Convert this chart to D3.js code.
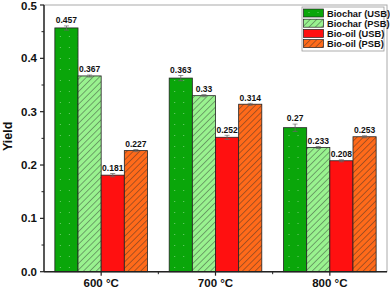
<!DOCTYPE html>
<html>
<head>
<meta charset="utf-8">
<script src="https://cdn.jsdelivr.net/npm/d3@7"></script>
<style>
  body { margin: 0; background: #fff; }
  text { font-family: "Liberation Sans", Arial, sans-serif; font-weight: bold; }
</style>
</head>
<body>
<script>
// ---------------- DATA ----------------
var categories = ['600 °C', '700 °C', '800 °C']
var seriesNames = ['Biochar (USB)', 'Biochar (PSB)', 'Bio-oil (USB)', 'Bio-oil (PSB)']
var biocharUSB = [0.457, 0.363, 0.27]
var biocharPSB = [0.367, 0.33, 0.233]
var biooilUSB = [0.181, 0.252, 0.208]
var biooilPSB = [0.227, 0.314, 0.253]
var errUSBchar = [0.004, 0.005, 0.007]
var errPSBchar = [0.002, 0.002, 0.002]
var errUSBoil = [0.003, 0.004, 0.002]
var errPSBoil = [0.002, 0.002, 0.002]
var yTicks = [0, 0.1, 0.2, 0.3, 0.4, 0.5]
var yMinorTicks = [0.05, 0.15, 0.25, 0.35, 0.45]

// ---------------- SVG ----------------
var width = 390, height = 289
var margin = {left: 44, right: 3, top: 5, bottom: 17.3}

var svg = d3.select('body').append('svg')
  .attr('width', width).attr('height', height)

var x0 = d3.scaleBand().domain(categories)
  .range([margin.left, width - margin.right]).paddingInner(0.19).paddingOuter(0.095)
var x1 = d3.scaleBand().domain(seriesNames).range([0, x0.bandwidth()])
var y = d3.scaleLinear().domain([0, 0.5]).range([height - margin.bottom, margin.top])

// ---------------- PATTERNS ----------------
var defs = svg.append('defs')
function hatch(id, bg) {
  var p = defs.append('pattern').attr('id', id).attr('patternUnits', 'userSpaceOnUse')
    .attr('width', 4.5).attr('height', 4.5).attr('patternTransform', 'rotate(45)')
  p.append('rect').attr('width', 4.5).attr('height', 4.5).attr('fill', bg)
  p.append('line').attr('x1', 0).attr('y1', 0).attr('x2', 0).attr('y2', 4.5)
    .attr('stroke', '#2a2a2a').attr('stroke-width', 0.8)
}
hatch('hatchGreen', '#99f28f')
hatch('hatchOrange', '#ff6a1a')
var dots = defs.append('pattern').attr('id', 'dotGreen').attr('patternUnits', 'userSpaceOnUse')
  .attr('width', 9).attr('height', 11)
dots.append('rect').attr('width', 9).attr('height', 11).attr('fill', '#0aa60a')
dots.append('rect').attr('x', 5).attr('y', 3).attr('width', 1).attr('height', 1).attr('fill', '#6fcf6f')

var fills = ['url(#dotGreen)', 'url(#hatchGreen)', '#ff1010', 'url(#hatchOrange)']

var table = categories.map(function(c, i) {
  return {cat: c, vals: [
    {s: seriesNames[0], v: biocharUSB[i], e: errUSBchar[i], f: fills[0]},
    {s: seriesNames[1], v: biocharPSB[i], e: errPSBchar[i], f: fills[1]},
    {s: seriesNames[2], v: biooilUSB[i], e: errUSBoil[i], f: fills[2]},
    {s: seriesNames[3], v: biooilPSB[i], e: errPSBoil[i], f: fills[3]}
  ]}
})

// ---------------- FRAME ----------------
svg.append('rect')
  .attr('x', margin.left).attr('y', margin.top)
  .attr('width', width - margin.right - margin.left)
  .attr('height', height - margin.bottom - margin.top)
  .attr('fill', 'none').attr('stroke', '#aaaaaa').attr('stroke-width', 1)

// ---------------- BARS ----------------
var groups = svg.selectAll('g.grp').data(table).enter().append('g')
  .attr('transform', function(d) { return 'translate(' + x0(d.cat) + ',0)' })

groups.selectAll('rect.bar').data(function(d) { return d.vals }).enter().append('rect')
  .attr('x', function(d) { return x1(d.s) })
  .attr('y', function(d) { return y(d.v) })
  .attr('width', x1.bandwidth())
  .attr('height', function(d) { return y(0) - y(d.v) })
  .attr('fill', function(d) { return d.f })
  .attr('stroke', '#222').attr('stroke-width', 0.8)

// error bars
var eb = groups.selectAll('g.err').data(function(d) { return d.vals }).enter().append('g')
  .attr('stroke', '#666').attr('stroke-width', 0.8)
eb.append('line')
  .attr('x1', function(d) { return x1(d.s) + x1.bandwidth() / 2 })
  .attr('x2', function(d) { return x1(d.s) + x1.bandwidth() / 2 })
  .attr('y1', function(d) { return y(d.v + d.e) })
  .attr('y2', function(d) { return y(d.v - d.e) })
eb.selectAll('line.cap').data(function(d) { return [d.v + d.e, d.v - d.e].map(function(v) { return {s: d.s, v: v} }) })
  .enter().append('line')
  .attr('x1', function(d) { return x1(d.s) + x1.bandwidth() / 2 - 2.5 })
  .attr('x2', function(d) { return x1(d.s) + x1.bandwidth() / 2 + 2.5 })
  .attr('y1', function(d) { return y(d.v) })
  .attr('y2', function(d) { return y(d.v) })

// value labels with white boxes
var lab = groups.selectAll('g.lab').data(function(d) { return d.vals }).enter().append('g')
lab.append('rect')
  .attr('x', function(d) { return x1(d.s) + 1.5 })
  .attr('y', function(d) { return y(d.v + d.e) - 10 })
  .attr('width', x1.bandwidth() - 3)
  .attr('height', 9.5)
  .attr('fill', '#fff')
lab.append('text')
  .attr('x', function(d) { return x1(d.s) + x1.bandwidth() / 2 })
  .attr('y', function(d) { return y(d.v + d.e) - 2.5 })
  .attr('text-anchor', 'middle')
  .attr('font-size', 8.5)
  .attr('fill', '#111')
  .text(function(d) { return d.v })

// ---------------- AXES ----------------
var yAxis = svg.append('g').attr('transform', 'translate(' + margin.left + ',0)')
yAxis.append('line').attr('y1', y(0)).attr('y2', y(0.5)).attr('stroke', '#222').attr('stroke-width', 1.4)
yAxis.selectAll('line.tk').data(yTicks).enter().append('line')
  .attr('x1', -4).attr('x2', 0).attr('y1', function(d) { return y(d) }).attr('y2', function(d) { return y(d) })
  .attr('stroke', '#222').attr('stroke-width', 1.2)
yAxis.selectAll('line.mn').data(yMinorTicks).enter().append('line')
  .attr('x1', -2.5).attr('x2', 0).attr('y1', function(d) { return y(d) }).attr('y2', function(d) { return y(d) })
  .attr('stroke', '#222').attr('stroke-width', 1)
yAxis.selectAll('text').data(yTicks).enter().append('text')
  .attr('x', -7).attr('y', function(d) { return Math.max(y(d) + 4, 10) })
  .attr('text-anchor', 'end').attr('font-size', 11.5).attr('fill', '#111')
  .text(function(d) { return d3.format('.1f')(d) })

var xAxis = svg.append('g').attr('transform', 'translate(0,' + y(0) + ')')
xAxis.append('line').attr('x1', margin.left).attr('x2', width - margin.right).attr('stroke', '#222').attr('stroke-width', 1.4)
xAxis.selectAll('line.tk').data(categories).enter().append('line')
  .attr('x1', function(d) { return x0(d) + x0.bandwidth() / 2 })
  .attr('x2', function(d) { return x0(d) + x0.bandwidth() / 2 })
  .attr('y1', 0).attr('y2', 4).attr('stroke', '#222').attr('stroke-width', 1.2)
var step = x0.step()
xAxis.selectAll('line.mn').data(categories.slice(1)).enter().append('line')
  .attr('x1', function(d) { return x0(d) - x0.paddingInner() * step / 2 })
  .attr('x2', function(d) { return x0(d) - x0.paddingInner() * step / 2 })
  .attr('y1', 0).attr('y2', 2.5).attr('stroke', '#222').attr('stroke-width', 1)
xAxis.selectAll('text').data(categories).enter().append('text')
  .attr('x', function(d) { return x0(d) + x0.bandwidth() / 2 })
  .attr('y', 15.5)
  .attr('text-anchor', 'middle').attr('font-size', 11.5).attr('fill', '#111')
  .text(function(d) { return d })

svg.append('text')
  .attr('transform', 'translate(12,' + (y(0.25) - 2) + ') rotate(-90)')
  .attr('text-anchor', 'middle').attr('font-size', 12.5).attr('fill', '#111')
  .text('Yield')

// ---------------- LEGEND ----------------
var legend = svg.append('g').attr('transform', 'translate(302,7)')
legend.append('rect').attr('width', 82).attr('height', 44)
  .attr('fill', '#fff').attr('stroke', '#999').attr('stroke-width', 0.8)
var rows = legend.selectAll('g.row').data(seriesNames).enter().append('g')
  .attr('transform', function(d, i) { return 'translate(1.5,' + (2 + i * 10.2) + ')' })
rows.append('rect').attr('width', 20).attr('height', 8)
  .attr('fill', function(d, i) { return fills[i] })
  .attr('stroke', '#222').attr('stroke-width', 0.7)
rows.append('text').attr('x', 23.5).attr('y', 7.8)
  .attr('font-size', 9.3).attr('fill', '#111')
  .text(function(d) { return d })
</script>
</body>
</html>
